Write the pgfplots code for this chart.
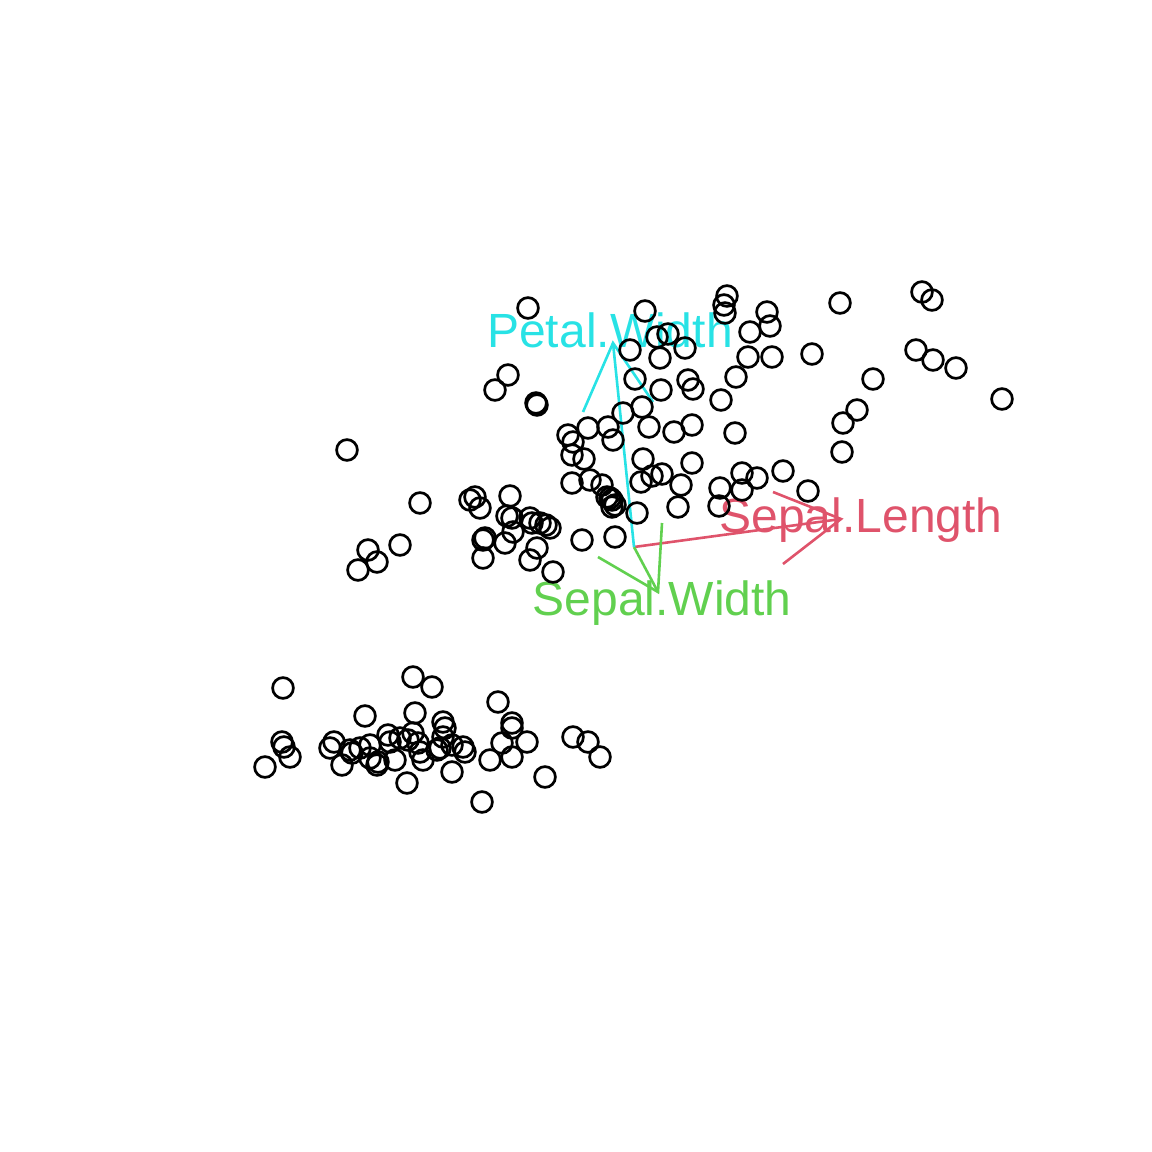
\documentclass[border=0pt]{standalone}
\usepackage{pgfplots}
\pgfplotsset{compat=1.18}
\usepackage{fontspec}
\setmainfont{Liberation Sans}
\definecolor{rred}{HTML}{DF536B}
\definecolor{rgreen}{HTML}{61D04F}
\definecolor{rcyan}{HTML}{28E2E5}
\begin{document}
\begin{tikzpicture}
\begin{axis}[width=576bp, height=576bp, scale only axis,
  xmin=0, xmax=1152, ymin=0, ymax=1152, y dir=reverse,
  hide axis, clip=false]
\path (axis cs:0,0) rectangle (axis cs:1152,1152);
% points (pixel coordinates of the projection)
\addplot[only marks, mark=o, mark size=5.2bp, mark options={line width=1.35bp, black}] coordinates {
(283,688) (413,677) (432,687) (498,702) (365,716) (415,713) (443,722) (445,728)
(512,723) (512,728) (282,742) (284,747) (290,757) (265,767) (330,748) (334,742)
(342,765) (350,750) (352,753) (370,745) (370,758) (378,762) (377,765) (388,735)
(390,742) (395,760) (408,740) (413,733) (418,743) (420,752) (423,760) (407,783)
(440,748) (443,737) (452,745) (463,747) (465,752) (452,772) (502,743) (527,742)
(490,760) (512,757) (573,737) (588,742) (600,757) (545,777) (482,802) (437,750)
(400,738) (360,748)
(347,450) (420,503) (368,550) (377,562) (358,570) (400,545) (470,500) (475,497)
(480,508) (510,496) (507,516) (512,518) (530,518) (532,523) (546,525) (550,528)
(540,523) (483,540) (485,538) (505,543) (513,532) (537,548) (530,560) (553,572)
(483,558) (582,540) (615,537) (495,390) (508,375) (536,403) (528,308) (568,435)
(573,442) (588,428) (608,427) (613,440) (623,413) (572,455) (584,459) (572,483)
(590,480) (602,485) (607,497) (612,500) (615,505) (612,507) (637,513) (642,407)
(649,427) (674,432) (692,425) (735,433) (643,459) (692,463) (641,482) (652,476)
(662,474) (681,485) (678,507) (742,473) (757,478) (783,471) (720,488) (742,490)
(719,506) (808,491) (635,379) (661,390) (688,380) (693,389) (736,377) (721,400)
(630,350) (660,358) (685,348) (657,337) (668,334) (645,311) (727,296) (724,305)
(725,313) (767,312) (770,326) (750,332) (748,357) (772,357) (812,354) (840,303)
(922,292) (932,300) (916,350) (933,360) (956,368) (1002,399) (873,379) (857,410)
(843,423) (842,452) (610,498) (537,405)
};
% arrows
\addplot[rred, line width=1.3bp, no marks] coordinates {(634,547) (841,519)};
\addplot[rred, line width=1.3bp, no marks] coordinates {(773,492) (841,519) (783,564)};
\addplot[rgreen, line width=1.3bp, no marks] coordinates {(634,547) (658,592)};
\addplot[rgreen, line width=1.3bp, no marks] coordinates {(662,523) (658,592) (598,557)};
\addplot[rcyan, line width=1.3bp, no marks] coordinates {(634,547) (613,343)};
\addplot[rcyan, line width=1.3bp, no marks] coordinates {(583,412) (613,343) (653,402)};
\node[text=rred, font=\fontsize{24bp}{28bp}\selectfont, inner sep=0] at (axis cs:861,520) {Sepal.Length};
\node[text=rgreen, font=\fontsize{24bp}{28bp}\selectfont, inner sep=0] at (axis cs:662,603) {Sepal.Width};
\node[text=rcyan, font=\fontsize{24bp}{28bp}\selectfont, inner sep=0] at (axis cs:610,330) {Petal.Width};
\end{axis}
\end{tikzpicture}
\end{document}
